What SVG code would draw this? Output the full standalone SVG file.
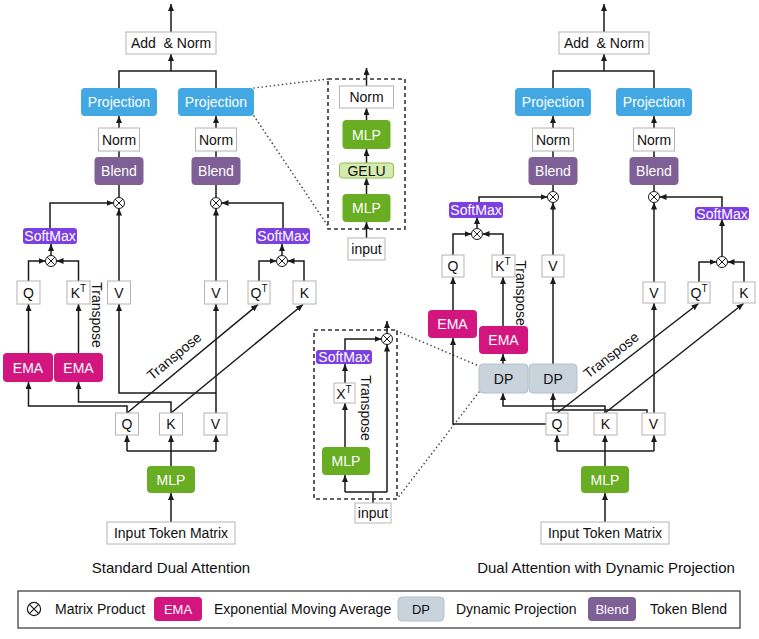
<svg xmlns="http://www.w3.org/2000/svg" width="759" height="639" viewBox="0 0 759 639">
<style>
text{font-family:"Liberation Sans",Arial,sans-serif;font-size:14px;fill:#111;text-anchor:middle;dominant-baseline:central}
.wb{fill:#fff;stroke:#b4b4b4;stroke-width:1}
.proj{fill:#41a8e4}
.blend{fill:#7e6096}
.sm{fill:#7b3fe4}
.ema{fill:#d3157f}
.mlp{fill:#69ad22}
.gelu{fill:#d6ebb0;stroke:#8cc04a;stroke-width:1}
.dp{fill:#c8d3dc;stroke:#b3bfca;stroke-width:1}
.w{fill:#fff}
.ln{fill:none;stroke:#1a1a1a;stroke-width:1.5}
.ar{fill:none;stroke:#1a1a1a;stroke-width:1.5;marker-end:url(#ah)}
.dash{fill:none;stroke:#333;stroke-width:1.6;stroke-dasharray:4 3}
.dot{fill:none;stroke:#444;stroke-width:1.6;stroke-dasharray:0.1 4;stroke-linecap:round}
.cap{font-size:15px}
.sup{font-size:10px}
</style>
<defs>
<marker id="ah" markerUnits="userSpaceOnUse" markerWidth="8" markerHeight="7" refX="7" refY="3" orient="auto">
<path d="M0,0 L7,3 L0,6 z" fill="#1a1a1a"/>
</marker>
<g id="otimes">
<circle r="5.5" fill="#fff" stroke="#1a1a1a" stroke-width="1"/>
<path d="M-3.9,-3.9 L3.9,3.9 M-3.9,3.9 L3.9,-3.9" stroke="#1a1a1a" stroke-width="1"/>
</g>
</defs>
<rect width="759" height="639" fill="#fff"/>

<!-- connectors -->
<g id="connectors">
<!-- left diagram -->
<path class="ar" d="M171,32 V4"/>
<path class="ar" d="M171,71 V54"/>
<path class="ln" d="M119,88 V71 H216 V88"/>
<path class="ar" d="M119,128 V116"/>
<path class="ar" d="M216,128 V116"/>
<path class="ln" d="M119,157 V151 M216,157 V151"/>
<path class="ln" d="M119,197.5 V185 M216,197.5 V185"/>
<path class="ar" d="M119,281 V208.5"/>
<path class="ar" d="M216,281 V208.5"/>
<path class="ar" d="M50,228 V203 H113.5"/>
<path class="ar" d="M283,228 V203 H221.5"/>
<path class="ar" d="M51,255.5 V244"/>
<path class="ar" d="M282,255.5 V244"/>
<path class="ar" d="M28.5,281 V261 H45.5"/>
<path class="ar" d="M78.5,281 V261 H56.5"/>
<path class="ar" d="M259,281 V261 H276.5"/>
<path class="ar" d="M304,281 V261 H287.5"/>
<path class="ar" d="M28.5,353 V304"/>
<path class="ar" d="M78.5,353 V304"/>
<path class="ar" d="M127,413 V406 H28.5 V382"/>
<path class="ar" d="M171,413 V402 H78.5 V382"/>
<path class="ar" d="M216,413 V304"/>
<path class="ar" d="M216,393 H119 V304"/>
<path class="ar" d="M127,413 L258,304.5"/>
<path class="ar" d="M171,413 L303,304.5"/>
<path class="ar" d="M171,522 V493"/>
<path class="ar" d="M171,466 V435"/>
<path class="ln" d="M127,451 H216"/>
<path class="ar" d="M127,451 V435"/>
<path class="ar" d="M216,451 V435"/>

<!-- top inset -->
<path class="ar" d="M366.5,86 V68"/>
<path class="ar" d="M366.5,120 V108"/>
<path class="ar" d="M366.5,163 V149"/>
<path class="ar" d="M366.5,194 V178"/>
<path class="ar" d="M366.5,238 V222"/>
<path class="dot" d="M254,88 L328,79"/>
<path class="dot" d="M254,116 L328,226"/>

<!-- bottom inset -->
<path class="ln" d="M373,503 V492 M345,492 H387"/>
<path class="ar" d="M345,492 V475"/>
<path class="ar" d="M387,492 V344.5"/>
<path class="ar" d="M345,447 V403"/>
<path class="ar" d="M345,383 V364"/>
<path class="ar" d="M345,350 V339 H381.5"/>
<path class="ar" d="M387,333.5 V321"/>
<path class="dot" d="M397,331 L479,366"/>
<path class="dot" d="M479,392 L397,499"/>

<!-- right diagram -->
<path class="ar" d="M604,32 V4"/>
<path class="ar" d="M604,71 V54"/>
<path class="ln" d="M553,88 V71 H654 V88"/>
<path class="ar" d="M553,128 V116"/>
<path class="ar" d="M654,128 V116"/>
<path class="ln" d="M553,157 V151 M654,157 V151"/>
<path class="ln" d="M553,191.5 V185 M654,191.5 V185"/>
<path class="ar" d="M553,255 V202.5"/>
<path class="ar" d="M654,282 V202.5"/>
<path class="ar" d="M479,202 V197 H547.5"/>
<path class="ar" d="M722,207 V197 H659.5"/>
<path class="ar" d="M477,228.5 V217"/>
<path class="ar" d="M722,256.5 V219"/>
<path class="ar" d="M453,255 V234 H471.5"/>
<path class="ar" d="M503,255 V234 H482.5"/>
<path class="ar" d="M699,282 V262 H716.5"/>
<path class="ar" d="M744,282 V262 H727.5"/>
<path class="ar" d="M453,310 V277"/>
<path class="ar" d="M503,326 V277"/>
<path class="ar" d="M503,364 V354"/>
<path class="ar" d="M553,364 V277"/>
<path class="ar" d="M546,424 H453 V338"/>
<path class="ar" d="M605,413 V406 H503 V393"/>
<path class="ar" d="M647,413 V410 H553 V393"/>
<path class="ar" d="M654,413 V303"/>
<path class="ar" d="M557,413 L698.5,303.5"/>
<path class="ar" d="M605,413 L743.5,303.5"/>
<path class="ar" d="M605,522 V493"/>
<path class="ar" d="M605,466 V435"/>
<path class="ln" d="M557,451 H654"/>
<path class="ar" d="M557,451 V435"/>
<path class="ar" d="M654,451 V435"/>
</g>

<!-- products -->
<g id="products">
<use href="#otimes" x="119" y="203"/>
<use href="#otimes" x="216" y="203"/>
<use href="#otimes" x="51" y="261"/>
<use href="#otimes" x="282" y="261"/>
<use href="#otimes" x="387" y="339"/>
<use href="#otimes" x="553" y="197"/>
<use href="#otimes" x="654" y="197"/>
<use href="#otimes" x="477" y="234"/>
<use href="#otimes" x="722" y="262"/>
</g>

<!-- left diagram nodes -->
<g id="l-addnorm"><rect class="wb" x="126" y="32" width="90" height="22"/><text x="171" y="43" style="white-space:pre">Add  &amp; Norm</text></g>
<g id="l-proj1"><rect class="proj" x="81" y="88" width="76" height="28" rx="4"/><text class="w" x="119" y="102">Projection</text></g>
<g id="l-proj2"><rect class="proj" x="178" y="88" width="76" height="28" rx="4"/><text class="w" x="216" y="102">Projection</text></g>
<g id="l-norm1"><rect class="wb" x="98.5" y="128" width="41" height="23"/><text x="119" y="139.5">Norm</text></g>
<g id="l-norm2"><rect class="wb" x="195.5" y="128" width="41" height="23"/><text x="216" y="139.5">Norm</text></g>
<g id="l-blend1"><rect class="blend" x="94.5" y="157" width="49" height="28" rx="4"/><text class="w" x="119" y="171">Blend</text></g>
<g id="l-blend2"><rect class="blend" x="191.5" y="157" width="49" height="28" rx="4"/><text class="w" x="216" y="171">Blend</text></g>
<g id="l-sm1"><rect class="sm" x="23" y="228" width="54" height="16" rx="3"/><text class="w" x="50" y="236">SoftMax</text></g>
<g id="l-sm2"><rect class="sm" x="256" y="228" width="54" height="16" rx="3"/><text class="w" x="283" y="236">SoftMax</text></g>
<g id="l-q"><rect class="wb" x="17" y="281" width="23" height="23"/><text x="28.5" y="293">Q</text></g>
<g id="l-kt"><rect class="wb" x="67" y="281" width="23" height="23"/><text x="78.5" y="293">K<tspan class="sup" dy="-5">T</tspan></text></g>
<g id="l-v1"><rect class="wb" x="107.5" y="281" width="23" height="23"/><text x="119" y="293">V</text></g>
<g id="l-v2"><rect class="wb" x="204.5" y="281" width="23" height="23"/><text x="216" y="293">V</text></g>
<g id="l-qt"><rect class="wb" x="248" y="281" width="22" height="23"/><text x="259" y="293">Q<tspan class="sup" dy="-5">T</tspan></text></g>
<g id="l-k2"><rect class="wb" x="293" y="281" width="23" height="23"/><text x="304.5" y="293">K</text></g>
<text x="97" y="315" transform="rotate(90 97 315)">Transpose</text>
<g id="l-ema1"><rect class="ema" x="3" y="353" width="50" height="29" rx="4"/><text class="w" x="28" y="368">EMA</text></g>
<g id="l-ema2"><rect class="ema" x="54" y="353" width="49" height="29" rx="4"/><text class="w" x="78.5" y="368">EMA</text></g>
<text x="174" y="356" transform="rotate(-39.6 174 356)">Transpose</text>
<g id="l-qb"><rect class="wb" x="115.5" y="413" width="23" height="22"/><text x="127" y="424">Q</text></g>
<g id="l-kb"><rect class="wb" x="159.5" y="413" width="23" height="22"/><text x="171" y="424">K</text></g>
<g id="l-vb"><rect class="wb" x="204" y="413" width="23" height="22"/><text x="215.5" y="424">V</text></g>
<g id="l-mlp"><rect class="mlp" x="147" y="466" width="48" height="27" rx="4"/><text class="w" x="171" y="480">MLP</text></g>
<g id="l-input"><rect class="wb" x="107" y="522" width="128" height="22"/><text x="171" y="533">Input Token Matrix</text></g>
<text class="cap" x="171" y="567">Standard Dual Attention</text>

<!-- top inset -->
<g id="inset-top">
<rect class="dash" x="328" y="79" width="77" height="150"/>
<g id="it-norm"><rect class="wb" x="339.5" y="86" width="54" height="22"/><text x="366.5" y="97">Norm</text></g>
<g id="it-mlp2"><rect class="mlp" x="342.5" y="120" width="48" height="29" rx="4"/><text class="w" x="366.5" y="134.5">MLP</text></g>
<g id="it-gelu"><rect class="gelu" x="339.5" y="163" width="54" height="15" rx="3"/><text x="366.5" y="170.5">GELU</text></g>
<g id="it-mlp1"><rect class="mlp" x="342.5" y="194" width="48" height="28" rx="4"/><text class="w" x="366.5" y="208">MLP</text></g>
<g id="it-input"><rect class="wb" x="348" y="238" width="37" height="22"/><text x="366.5" y="249">input</text></g>
</g>

<!-- bottom inset -->
<g id="inset-bottom">
<rect class="dash" x="314" y="330" width="83" height="169"/>
<g id="ib-sm"><rect class="sm" x="316" y="350" width="56" height="14" rx="3"/><text class="w" x="344" y="357">SoftMax</text></g>
<g id="ib-xt"><rect class="wb" x="334" y="383" width="21" height="20"/><text x="344" y="393.5">X<tspan class="sup" dy="-5">T</tspan></text></g>
<text x="366" y="408" transform="rotate(90 366 408)">Transpose</text>
<g id="ib-mlp"><rect class="mlp" x="322" y="447" width="48" height="28" rx="4"/><text class="w" x="346" y="461">MLP</text></g>
<g id="ib-input"><rect class="wb" x="355" y="503" width="36" height="20"/><text x="373" y="513">input</text></g>
</g>

<!-- right diagram nodes -->
<g id="r-addnorm"><rect class="wb" x="559" y="32" width="90" height="22"/><text x="604" y="43" style="white-space:pre">Add  &amp; Norm</text></g>
<g id="r-proj1"><rect class="proj" x="515" y="88" width="76" height="28" rx="4"/><text class="w" x="553" y="102">Projection</text></g>
<g id="r-proj2"><rect class="proj" x="616" y="88" width="76" height="28" rx="4"/><text class="w" x="654" y="102">Projection</text></g>
<g id="r-norm1"><rect class="wb" x="532.5" y="128" width="41" height="23"/><text x="553" y="139.5">Norm</text></g>
<g id="r-norm2"><rect class="wb" x="633.5" y="128" width="41" height="23"/><text x="654" y="139.5">Norm</text></g>
<g id="r-blend1"><rect class="blend" x="528.5" y="157" width="49" height="28" rx="4"/><text class="w" x="553" y="171">Blend</text></g>
<g id="r-blend2"><rect class="blend" x="629.5" y="157" width="49" height="28" rx="4"/><text class="w" x="654" y="171">Blend</text></g>
<g id="r-sm1"><rect class="sm" x="449" y="202" width="54" height="16" rx="3"/><text class="w" x="476" y="210">SoftMax</text></g>
<g id="r-sm2"><rect class="sm" x="695" y="207" width="54" height="13" rx="3"/><text class="w" x="722" y="213.5">SoftMax</text></g>
<g id="r-q"><rect class="wb" x="442" y="255" width="22" height="22"/><text x="453" y="266">Q</text></g>
<g id="r-kt"><rect class="wb" x="492" y="255" width="23" height="22"/><text x="503" y="266">K<tspan class="sup" dy="-5">T</tspan></text></g>
<g id="r-v1"><rect class="wb" x="542" y="255" width="22" height="22"/><text x="553" y="266">V</text></g>
<text x="521" y="293" transform="rotate(90 521 293)">Transpose</text>
<g id="r-v2"><rect class="wb" x="643" y="282" width="22" height="21"/><text x="654" y="292.5">V</text></g>
<g id="r-qt"><rect class="wb" x="688" y="282" width="22" height="21"/><text x="699" y="292.5">Q<tspan class="sup" dy="-5">T</tspan></text></g>
<g id="r-k2"><rect class="wb" x="733" y="282" width="22" height="21"/><text x="744" y="292.5">K</text></g>
<g id="r-ema1"><rect class="ema" x="428" y="310" width="49" height="28" rx="4"/><text class="w" x="452.5" y="324">EMA</text></g>
<g id="r-ema2"><rect class="ema" x="479" y="326" width="49" height="28" rx="4"/><text class="w" x="503.5" y="340">EMA</text></g>
<g id="r-dp1"><rect class="dp" x="479" y="364" width="49" height="29" rx="4"/><text x="503.5" y="378.5">DP</text></g>
<g id="r-dp2"><rect class="dp" x="529" y="364" width="48" height="29" rx="4"/><text x="553" y="378.5">DP</text></g>
<text x="611" y="355" transform="rotate(-37.8 611 355)">Transpose</text>
<g id="r-qb"><rect class="wb" x="546" y="413" width="22" height="22"/><text x="557" y="424">Q</text></g>
<g id="r-kb"><rect class="wb" x="594" y="413" width="23" height="22"/><text x="605.5" y="424">K</text></g>
<g id="r-vb"><rect class="wb" x="642" y="413" width="23" height="22"/><text x="653.5" y="424">V</text></g>
<g id="r-mlp"><rect class="mlp" x="581" y="466" width="48" height="27" rx="4"/><text class="w" x="605" y="480">MLP</text></g>
<g id="r-input"><rect class="wb" x="541" y="522" width="128" height="22"/><text x="605" y="533">Input Token Matrix</text></g>
<text class="cap" x="606" y="567">Dual Attention with Dynamic Projection</text>

<!-- legend -->
<g id="legend">
<rect x="18" y="591" width="722" height="37" fill="#fff" stroke="#333" stroke-width="1.2"/>
<g transform="translate(34 609) scale(1.2)"><use href="#otimes"/></g>
<text x="55" y="609" style="text-anchor:start">Matrix Product</text>
<rect class="ema" x="154" y="597" width="48" height="24" rx="4"/><text class="w" x="178" y="609" style="font-size:13px">EMA</text>
<text x="214" y="609" style="text-anchor:start">Exponential Moving Average</text>
<rect class="dp" x="398" y="597" width="46" height="24" rx="4"/><text x="421" y="609" style="font-size:13px">DP</text>
<text x="456" y="609" style="text-anchor:start">Dynamic Projection</text>
<rect class="blend" x="588" y="597" width="48" height="24" rx="4"/><text class="w" x="612" y="609" style="font-size:13px">Blend</text>
<text x="650" y="609" style="text-anchor:start">Token Blend</text>
</g>
</svg>
